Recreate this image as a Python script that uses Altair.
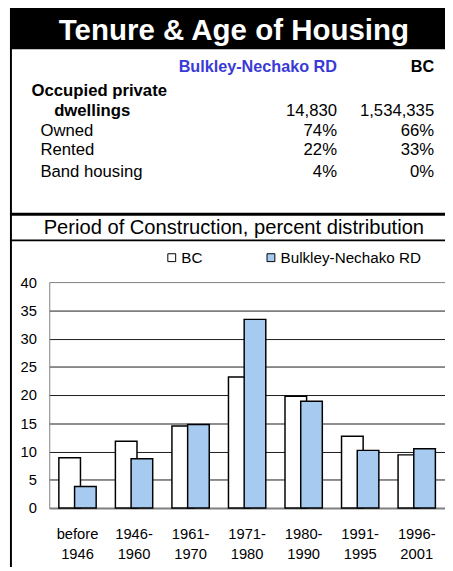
import altair as alt
import pandas as pd

FONT = "Liberation Sans"

# ---- data ----
periods = ["before 1946", "1946-1960", "1961-1970", "1971-1980", "1980-1990", "1991-1995", "1996-2001"]
bc_pct = [8.9, 11.8, 14.5, 23.2, 19.8, 12.7, 9.4]
rd_pct = [3.8, 8.7, 14.8, 33.4, 18.9, 10.2, 10.5]
series_names = ["BC", "Bulkley-Nechako RD"]

title_text = "Tenure & Age of Housing"
subtitle_text = "Period of Construction, percent distribution"
col_heads = ["Bulkley-Nechako RD", "BC"]
dwell_label = ["Occupied private", "dwellings"]
dwell_vals = ["14,830", "1,534,335"]
row_labels = ["Owned", "Rented", "Band housing"]
rd_vals = ["74%", "22%", "4%"]
bc_vals = ["66%", "33%", "0%"]

# ---- layout (pixels, relative to plot origin) ----
W, H = 403, 230
PAD_L, PAD_T = 42, 274

df = pd.DataFrame({
    "period": periods * 2,
    "value": bc_pct + rd_pct,
    "series": [series_names[0]] * len(periods) + [series_names[1]] * len(periods),
})

one = pd.DataFrame({"k": [0]})

color = alt.Color(
    "series:N",
    scale=alt.Scale(domain=series_names, range=["#ffffff", "#a6caf0"]),
    legend=alt.Legend(
        title=None, orient="none", legendX=117, legendY=-33, direction="horizontal",
        symbolType="square", symbolSize=64, symbolStrokeColor="black", symbolStrokeWidth=1,
        symbolOpacity=1, labelFont=FONT, labelFontSize=15.5, labelColor="black",
        labelOffset=2, columnPadding=61, padding=0,
    ),
)

xenc = alt.X(
    "period:N", sort=periods, title=None,
    scale=alt.Scale(paddingInner=0, paddingOuter=0),
    axis=alt.Axis(
        labelAngle=0, labelFont=FONT, labelFontSize=15, labelColor="black",
        labelExpr="indexof(datum.label, '-') > 0 ? [substring(datum.label, 0, 5), substring(datum.label, 5)] : split(datum.label, ' ')",
        labelLineHeight=20, labelPadding=19, ticks=False, domainColor="#808080",
        domainWidth=2, grid=False,
    ),
)
yenc = alt.Y(
    "value:Q", title=None,
    scale=alt.Scale(domain=[0, 40], nice=False),
    axis=alt.Axis(
        values=[0, 5, 10, 15, 20, 25, 30, 35, 40], labelFont=FONT, labelFontSize=15,
        labelColor="black", labelPadding=13, ticks=False, domainColor="#808080",
        domainWidth=1, grid=True,
        gridColor=alt.condition("datum.value == 40 || datum.value == 0", alt.value("#808080"), alt.value("#1a1a1a")),
        gridWidth=1,
    ),
)

bars_bc = alt.Chart(df).transform_filter(alt.datum.series == series_names[0]).mark_bar(
    width=22, xOffset=-8, stroke="black", strokeWidth=1.5
).encode(x=xenc, y=yenc, color=color)
bars_rd = alt.Chart(df).transform_filter(alt.datum.series == series_names[1]).mark_bar(
    width=22, xOffset=8, stroke="black", strokeWidth=1.5
).encode(x=xenc, y=yenc, color=color)

layers = []

# header band
layers.append(alt.Chart(one).mark_rect(color="black").encode(
    x=alt.value(-40), x2=alt.value(410), y=alt.value(-285), y2=alt.value(-237)))

def txt(s, x, y, size, bold=False, align="left", col="black"):
    return alt.Chart(pd.DataFrame({"t": [s]})).mark_text(
        align=align, baseline="alphabetic", font=FONT, fontSize=size,
        fontWeight="bold" if bold else "normal", color=col,
    ).encode(text="t:N", x=alt.value(x), y=alt.value(y))

layers.append(txt(title_text, 188, -247, 30, bold=True, align="center", col="white"))
layers.append(txt(col_heads[0], 293, -214, 16.5, bold=True, align="right", col="#3a3ad6"))
layers.append(txt(col_heads[1], 392, -214, 16.5, bold=True, align="right"))
layers.append(txt(dwell_label[0], -18, -189, 17, bold=True))
layers.append(txt(dwell_label[1], 5, -169, 17, bold=True))
layers.append(txt(dwell_vals[0], 293, -169, 17, align="right"))
layers.append(txt(dwell_vals[1], 392, -169, 17, align="right"))
row_y = [-149, -129, -107]
for lab, a, b, yy in zip(row_labels, rd_vals, bc_vals, row_y):
    layers.append(txt(lab, -9, yy, 17))
    layers.append(txt(a, 293, yy, 17, align="right"))
    layers.append(txt(b, 392, yy, 17, align="right"))

layers.append(txt(subtitle_text, 188, -49, 20.5, align="center"))

# frame lines
layers.append(alt.Chart(one).mark_rule(color="black", strokeWidth=2).encode(
    x=alt.value(-39), y=alt.value(-240), y2=alt.value(300)))
layers.append(alt.Chart(one).mark_rule(color="black", strokeWidth=3).encode(
    x=alt.value(-40), x2=alt.value(410), y=alt.value(-69)))
layers.append(alt.Chart(one).mark_rule(color="black", strokeWidth=2).encode(
    x=alt.value(-40), x2=alt.value(410), y=alt.value(-42.5)))

chart = alt.layer(bars_bc, bars_rd, *layers).properties(
    width=W, height=H,
    autosize=alt.AutoSizeParams(type="none"),
    padding={"left": PAD_L, "top": PAD_T, "right": 0, "bottom": 55},
    background="white",
).configure_view(strokeWidth=0)

chart.save("out.html", embed_options={"renderer": "svg", "actions": False})
